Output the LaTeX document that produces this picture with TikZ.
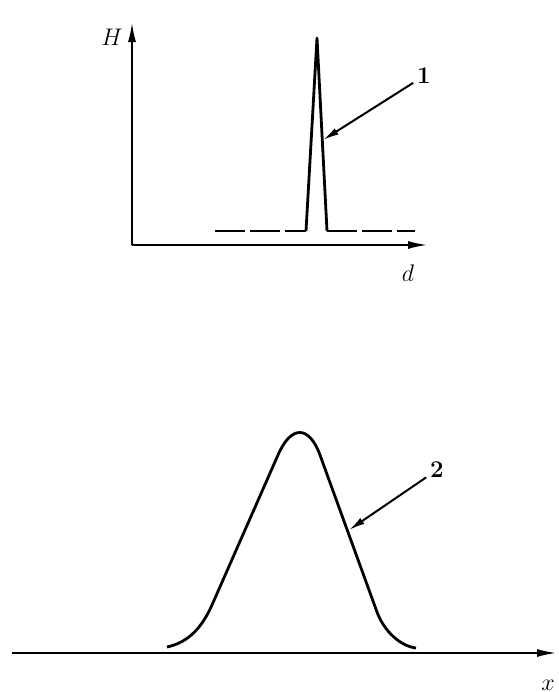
\documentclass[tikz,border=0pt]{standalone}
\usetikzlibrary{arrows.meta}

\begin{document}
\begin{tikzpicture}[
  x=0.5pt, y=-0.5pt,
  axis/.style={-{Latex[length=10pt,width=4pt]}, line width=1.1pt},
  lead/.style={-{Latex[length=8pt,width=3.6pt]}, line width=1pt, shorten <=1pt},
  curve/.style={line width=1.4pt, line join=round},
  lbl/.style={font=\large, inner sep=1pt}
]
  \useasboundingbox (0,0) rectangle (558,692);

  % upper graph
  \coordinate (o1) at (132,245);
  \coordinate (ytop) at (132,22);
  \coordinate (dend) at (428,245);
  \draw[axis] (o1) -- (ytop);
  \draw[axis] (o1) -- (dend);
  \node[lbl] (hlab) at (112,37) {$H$};
  \node[lbl] (dlab) at (408,273) {$d$};

  \coordinate (bl) at (215,231);
  \coordinate (sl) at (306,231);
  \coordinate (pk) at (317,38);
  \coordinate (sr) at (327,231);
  \coordinate (br) at (415,231);
  \draw[line width=1.1pt, dash pattern=on 15pt off 2.5pt] (bl) -- (sl);
  \draw[line width=1.1pt, dash pattern=on 15pt off 2.5pt] (sr) -- (br);
  \draw[curve] (sl) -- (pk) -- (sr);

  \node[lbl, font=\large\bfseries] (n1) at (424,76) {1};
  \coordinate (p1) at (323,140);
  \draw[lead] (n1) -- (p1);

  % lower graph
  \coordinate (o2) at (12,653);
  \coordinate (xend) at (557,653);
  \draw[axis] (o2) -- (xend);
  \node[lbl] (xlab) at (548,685) {$x$};

  \draw[curve] (167,647) .. controls (185,643) and (200,632) .. (212,605)
    -- (278,455) .. controls (291,425) and (309,425) .. (320,455)
    -- (377,612) .. controls (384,631) and (400,646) .. (416,648);

  \node[lbl, font=\large\bfseries] (n2) at (437,470) {2};
  \coordinate (p2) at (349,530);
  \draw[lead] (n2) -- (p2);
\end{tikzpicture}
\end{document}
